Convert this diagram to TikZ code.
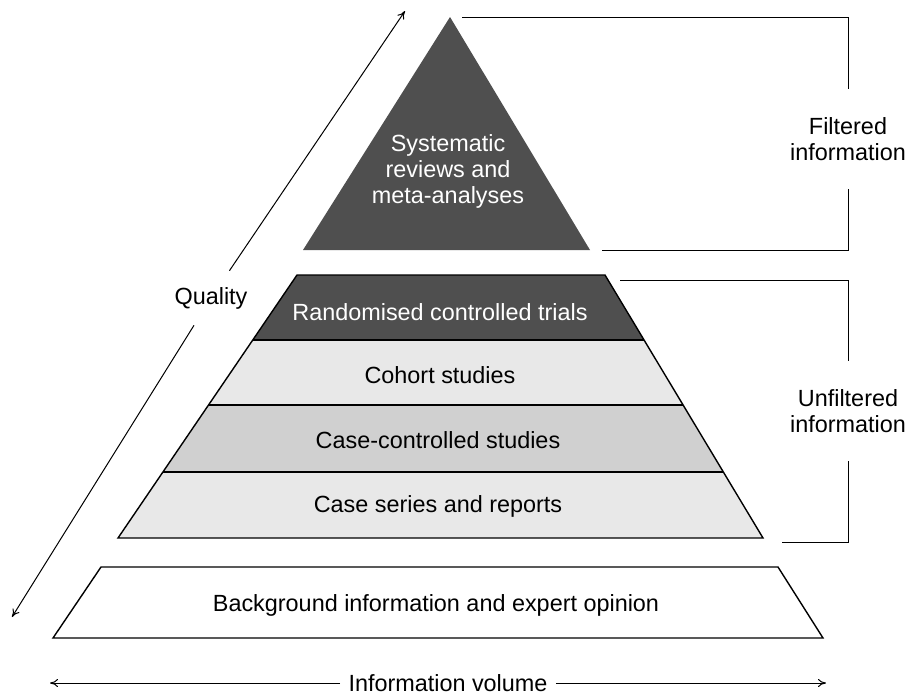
\documentclass[tikz,border=0pt]{standalone}
\usepackage{fontspec}
\setmainfont{Liberation Sans}
\usetikzlibrary{arrows.meta}

\definecolor{darkband}{HTML}{4F4F4F}
\definecolor{lightband}{HTML}{E8E8E8}
\definecolor{midband}{HTML}{D0D0D0}

\begin{document}
\begin{tikzpicture}[x=0.5pt, y=-0.5pt,
    pyrtext/.style={font=\fontsize{11.7}{13}\selectfont, align=center, inner sep=1pt},
    bracketlabel/.style={pyrtext, inner ysep=14pt},
    edge/.style={line width=0.7pt},
    arr/.style={line width=0.5pt, -{To[length=4pt,width=4pt]}}]
    \useasboundingbox (0,0) rectangle (909,698);

    % filtered part
    \fill[darkband] (450,17) -- (590,250) -- (303,250) -- cycle;

    % unfiltered part
    \fill[darkband] (297,275) -- (605,275) -- (644,340) -- (253,340) -- cycle;
    \fill[lightband] (253,340) -- (644,340) -- (683,405) -- (208,405) -- cycle;
    \fill[midband] (208,405) -- (683,405) -- (723,472) -- (163,472) -- cycle;
    \fill[lightband] (163,472) -- (723,472) -- (763,538) -- (118,538) -- cycle;
    \draw[edge] (297,275) -- (605,275) -- (763,538) -- (118,538) -- cycle;
    \draw[edge] (253,340) -- (644,340);
    \draw[edge] (208,405) -- (683,405);
    \draw[edge] (163,472) -- (723,472);

    % base
    \draw[edge] (101,567) -- (778,567) -- (823,638) -- (53,638) -- cycle;

    \node[pyrtext, text=white] (sysrev) at (448,171) {Systematic\\reviews and\\meta-analyses};
    \node[pyrtext, text=white] (rct) at (440,312) {Randomised controlled trials};
    \node[pyrtext] (cohort) at (440,375) {Cohort studies};
    \node[pyrtext] (casectrl) at (438,440) {Case-controlled studies};
    \node[pyrtext] (caseser) at (438,506) {Case series and reports};
    \node[pyrtext] (backgr) at (436,605) {Background information and expert opinion};

    % quality axis
    \coordinate (qlow) at (12,617);
    \coordinate (qhigh) at (405,11);
    \node[pyrtext, inner sep=8pt] (quality) at (211,298) {Quality};
    \draw[arr] (quality) -- (qhigh);
    \draw[arr] (quality) -- (qlow);

    % volume axis
    \coordinate (vleft) at (50,683);
    \coordinate (vright) at (826,683);
    \node[pyrtext, inner sep=4pt] (infovol) at (448,683) {Information volume};
    \draw[arr] (infovol) -- (vleft);
    \draw[arr] (infovol) -- (vright);

    % brackets
    \coordinate (ftop) at (462,17);
    \coordinate (fbot) at (602,250);
    \node[bracketlabel] (filtered) at (848,139) {Filtered\\information};
    \draw[line width=0.5pt] (ftop) -| (filtered);
    \draw[line width=0.5pt] (fbot) -| (filtered);

    \coordinate (utop) at (620,280);
    \coordinate (ubot) at (782,542);
    \node[bracketlabel] (unfiltered) at (848,411) {Unfiltered\\information};
    \draw[line width=0.5pt] (utop) -| (unfiltered);
    \draw[line width=0.5pt] (ubot) -| (unfiltered);
\end{tikzpicture}
\end{document}
